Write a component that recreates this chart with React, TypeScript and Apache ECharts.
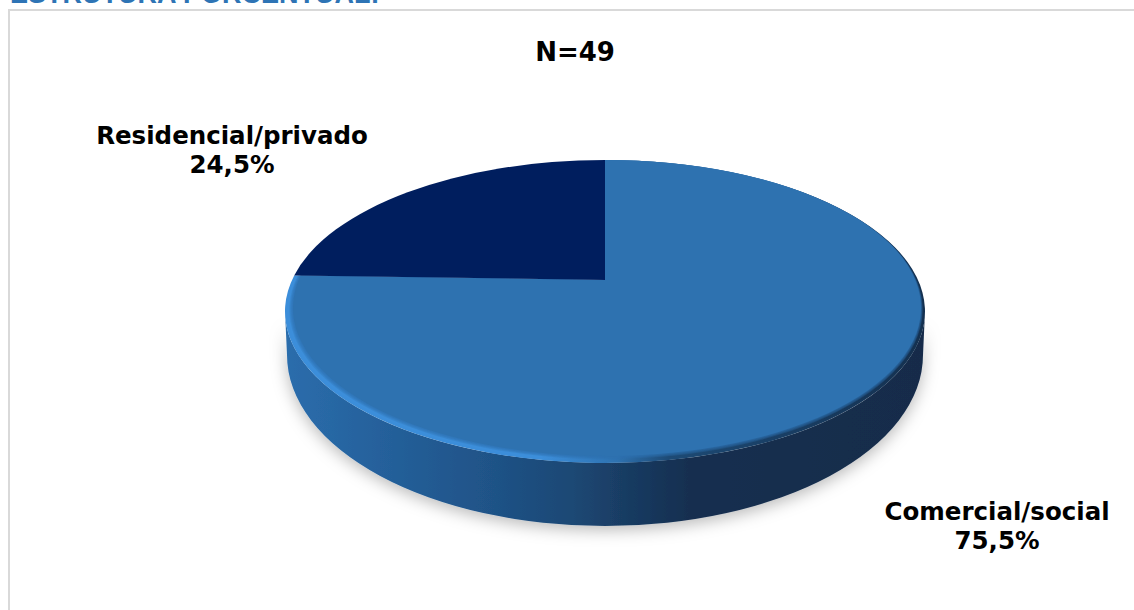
import React, { useEffect, useRef } from "react";
import * as echarts from "echarts";

const categories = ["Comercial/social", "Residencial/privado"];
const percentages = [75.5, 24.5];
const sampleSize = 49;
const pageTitle = "ESTRUTURA PORCENTUAL:";

const W = 1134;
const H = 610;
const FONT = "'DejaVu Sans', Verdana, sans-serif";

// Projection of the tilted disc
const APEX = { x: 605, y: 280 };
const TOP = { cx: 605, cy: 311.5, a: 320, b: 151.5 };
const INNER = { cx: 607, cy: 308, a: 314, b: 148 };
const BOTTOM = { cx: 605, cy: 355, a: 318, b: 171 };
const LABELS = [
  { x: 997, y: 526 },
  { x: 232, y: 150 },
];
const SOFT_STEPS = [0.55, 0.68, 0.8, 0.9, 1];

const fills = [
  { type: "main", top: "#2E72B0" },
  { type: "flat", top: "#001E5E" },
];

type Ell = { cx: number; cy: number; a: number; b: number };

function rayPoint(e: Ell, theta: number) {
  const dx = Math.sin(theta) * TOP.a;
  const dy = -Math.cos(theta) * TOP.b;
  const ox = (APEX.x - e.cx) / e.a;
  const oy = (APEX.y - e.cy) / e.b;
  const ux = dx / e.a;
  const uy = dy / e.b;
  const A = ux * ux + uy * uy;
  const B = 2 * (ox * ux + oy * uy);
  const C = ox * ox + oy * oy - 1;
  const t = (-B + Math.sqrt(B * B - 4 * A * C)) / (2 * A);
  return { x: APEX.x + dx * t, y: APEX.y + dy * t };
}

function slicePath(e: Ell, start: number, end: number) {
  const s = rayPoint(e, start);
  const f = rayPoint(e, end);
  const large = end - start > Math.PI ? 1 : 0;
  return `M${APEX.x} ${APEX.y}L${s.x} ${s.y}A${e.a} ${e.b} 0 ${large} 1 ${f.x} ${f.y}Z`;
}

function wallPath(start: number, end: number) {
  const lo = Math.max(start, Math.PI / 2);
  const hi = Math.min(end, (3 * Math.PI) / 2);
  if (hi <= lo) return null;
  const p = (e: Ell, t: number) => ({
    x: e.cx + e.a * Math.sin(t),
    y: e.cy - e.b * Math.cos(t),
  });
  const t0 = p(TOP, lo);
  const t1 = p(TOP, hi);
  const b0 = p(BOTTOM, lo);
  const b1 = p(BOTTOM, hi);
  return (
    `M${t0.x} ${t0.y}A${TOP.a} ${TOP.b} 0 0 1 ${t1.x} ${t1.y}` +
    `L${b1.x} ${b1.y}A${BOTTOM.a} ${BOTTOM.b} 0 0 0 ${b0.x} ${b0.y}Z`
  );
}

const hGrad = (stops: [number, string][]) =>
  new echarts.graphic.LinearGradient(
    0,
    0,
    1,
    0,
    stops.map(([offset, color]) => ({ offset, color }))
  );

const mix = (k: number): Ell => ({
  cx: TOP.cx + (INNER.cx - TOP.cx) * k,
  cy: TOP.cy + (INNER.cy - TOP.cy) * k,
  a: TOP.a + (INNER.a - TOP.a) * k,
  b: TOP.b + (INNER.b - TOP.b) * k,
});

const formatPct = (v: number) => v.toFixed(1).replace(".", ",") + "%";

export default function App() {
  const ref = useRef<HTMLDivElement>(null);

  useEffect(() => {
    document.body.style.margin = "0";
    document.body.style.overflow = "hidden";
    const chart = echarts.init(ref.current!, null, { renderer: "svg" });
    const total = percentages.reduce((s, v) => s + v, 0);

    const renderItem = (params: any, api: any) => {
      const i = params.dataIndex;
      const before = percentages.slice(0, i).reduce((s, v) => s + v, 0);
      const start = (before / total) * Math.PI * 2;
      const end = start + (api.value(0) / total) * Math.PI * 2;
      const children: any[] = [];
      const wall = wallPath(start, end);
      if (wall) {
        children.push({
          type: "path",
          shape: { pathData: wall },
          style: {
            fill: hGrad([
              [0, "#2B6DAC"],
              [0.17, "#245F99"],
              [0.33, "#1F5286"],
              [0.45, "#1C4874"],
              [0.53, "#193C63"],
              [0.63, "#162F50"],
              [1, "#142C4A"],
            ]),
            shadowBlur: 16,
            shadowColor: "rgba(0,0,0,0.28)",
            shadowOffsetY: 4,
          },
        });
      }
      if (fills[i].type === "main") {
        children.push({
          type: "path",
          shape: { pathData: slicePath(TOP, start, end) },
          style: {
            fill: hGrad([
              [0, "#3C8EDA"],
              [0.4, "#3C8EDA"],
              [0.52, "#2E72B0"],
              [0.6, "#1D4A75"],
              [1, "#14304F"],
            ]),
          },
        });
        SOFT_STEPS.forEach((k) => {
          children.push({
            type: "path",
            shape: { pathData: slicePath(mix(k), start, end) },
            style: { fill: fills[i].top, opacity: k === 1 ? 1 : 0.3 },
          });
        });
      } else {
        children.push({
          type: "path",
          shape: { pathData: slicePath(TOP, start, end) },
          style: { fill: fills[i].top },
        });
      }
      children.push({
        type: "text",
        x: LABELS[i].x,
        y: LABELS[i].y,
        style: {
          text: `${categories[i]}\n${formatPct(api.value(0))}`,
          fontFamily: FONT,
          fontWeight: "bold",
          fontSize: 24.5,
          lineHeight: 29,
          fill: "#000",
          align: "center",
          verticalAlign: "middle",
        },
      });
      return { type: "group", children };
    };

    chart.setOption({
      animation: false,
      backgroundColor: "#fff",
      graphic: [
        {
          type: "text",
          x: 10,
          y: 7,
          style: {
            text: pageTitle,
            fontFamily: "'Liberation Sans', Arial, sans-serif",
            fontWeight: "bold",
            fontSize: 27,
            fill: "#2E74B5",
            verticalAlign: "bottom",
          },
        },
        { type: "rect", shape: { x: 8, y: 9, width: W - 8, height: 2 }, style: { fill: "#D9D9D9" } },
        { type: "rect", shape: { x: 8, y: 9, width: 2, height: H - 9 }, style: { fill: "#D9D9D9" } },
        {
          type: "text",
          x: 575,
          y: 52,
          style: {
            text: `N=${sampleSize}`,
            fontFamily: FONT,
            fontWeight: "bold",
            fontSize: 26,
            fill: "#000",
            align: "center",
            verticalAlign: "middle",
          },
        },
      ],
      series: [
        {
          type: "custom",
          coordinateSystem: "none",
          silent: true,
          renderItem,
          data: categories.map((name, i) => ({ name, value: [percentages[i]] })),
        },
      ],
    });
    return () => chart.dispose();
  }, []);

  return <div ref={ref} style={{ position: "fixed", left: 0, top: 0, width: W, height: H }} />;
}
